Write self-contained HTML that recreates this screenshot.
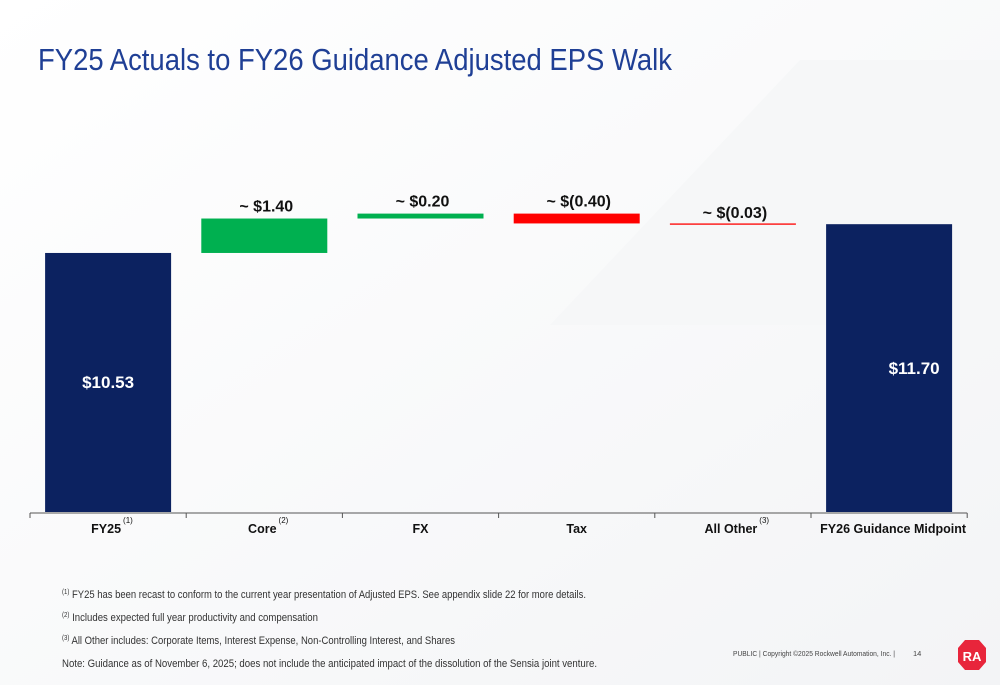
<!DOCTYPE html>
<html><head><meta charset="utf-8"><style>
html,body{margin:0;padding:0;width:1000px;height:685px;overflow:hidden;background:#fff}
svg{display:block;font-family:"Liberation Sans",sans-serif}
</style></head><body>
<svg id="c" width="1000" height="685" viewBox="0 0 1000 685">
<defs><linearGradient id="bg" x1="0" y1="0" x2="1" y2="1"><stop offset="0" stop-color="#ffffff"/><stop offset="1" stop-color="#f3f4f6"/></linearGradient></defs>
<rect width="1000" height="685" fill="url(#bg)"/>
<polygon points="550,325 800,60 1000,60 1000,325" fill="#f6f7f8"/>
<text x="38" y="70" font-size="31" fill="#1f3f95" textLength="634" lengthAdjust="spacingAndGlyphs">FY25 Actuals to FY26 Guidance Adjusted EPS Walk</text>
<g id="bars"></g>
<g id="axis"></g>
<g font-size="11" fill="#333">
<text x="62" y="598" textLength="524" lengthAdjust="spacingAndGlyphs"><tspan font-size="7" dy="-4">(1)</tspan><tspan dy="4"> FY25 has been recast to conform to the current year presentation of Adjusted EPS. See appendix slide 22 for more details.</tspan></text>
<text x="62" y="621" textLength="256" lengthAdjust="spacingAndGlyphs"><tspan font-size="7" dy="-4">(2)</tspan><tspan dy="4"> Includes expected full year productivity and compensation</tspan></text>
<text x="62" y="644" textLength="393" lengthAdjust="spacingAndGlyphs"><tspan font-size="7" dy="-4">(3)</tspan><tspan dy="4"> All Other includes: Corporate Items, Interest Expense, Non-Controlling Interest, and Shares</tspan></text>
<text x="62" y="667" textLength="535" lengthAdjust="spacingAndGlyphs">Note: Guidance as of November 6, 2025; does not include the anticipated impact of the dissolution of the Sensia joint venture.</text>
</g>
<text x="733" y="656" font-size="7.5" fill="#444" textLength="162" lengthAdjust="spacingAndGlyphs">PUBLIC | Copyright ©2025 Rockwell Automation, Inc. |</text>
<text x="913" y="656" font-size="7.5" fill="#444">14</text>
<g><polygon points="965,640 979,640 986,648 986,662 979,670 965,670 958,662 958,648" fill="#e8253b"/><text x="972" y="661" font-size="13" font-weight="bold" fill="#fff" text-anchor="middle">RA</text></g>
</svg>
<script>
const categories=["FY25","Core","FX","Tax","All Other","FY26 Guidance Midpoint"];
const superscripts=["(1)","(2)","","","(3)",""];
const values=[10.53,1.40,0.20,-0.40,-0.03,11.70];
const valueLabels=["$10.53","~ $1.40","~ $0.20","~ $(0.40)","~ $(0.03)","$11.70"];
const kinds=["total","delta","delta","delta","delta","total"];
const NS="http://www.w3.org/2000/svg";
const base=512, scale=24.6, x0=30, step=156.2, bw=126;
const y=v=>base-v*scale;
const xc=i=>x0+step*i+step/2;
function mk(t,a,p){const e=document.createElementNS(NS,t);for(const k in a)e.setAttribute(k,a[k]);p.appendChild(e);return e;}
const gb=document.getElementById('bars'),ga=document.getElementById('axis');
let cum=0;
values.forEach((v,i)=>{
  let top,bot,col;
  if(kinds[i]==="total"){top=y(v);bot=base;col="#0c2260";cum=v;}
  else{const s=cum,e=cum+v;top=y(Math.max(s,e));bot=y(Math.min(s,e));col=v>=0?"#00b050":"#ff0000";cum=e;}
  const h=Math.max(bot-top,1.3);
  const r=mk('rect',{x:xc(i)-bw/2,y:top,width:bw,height:h,fill:col},gb);
  
  
  let t;
  if(kinds[i]==="total"){
    const lx=i===0?xc(i):xc(i)+25;
    const ly=i===0?y(v)+135:y(v)+150;
    t=mk('text',{x:lx,y:ly,'font-size':17,'font-weight':'bold',fill:'#fff','text-anchor':'middle'},gb);
  } else {
    const ly=top-7;
    t=mk('text',{x:xc(i)+2,y:i===4?218:ly,'font-size':16,'font-weight':'bold',fill:'#111','text-anchor':'middle'},gb);
  }
  t.textContent=valueLabels[i];
  
  
});
const ln=mk('line',{x1:x0,y1:base+1,x2:x0+step*6,y2:base+1,stroke:'#555','stroke-width':1},ga);


for(let i=0;i<=6;i++){const tk=mk('line',{x1:x0+step*i,y1:base+1,x2:x0+step*i,y2:base+6,stroke:'#555'},ga);

}
categories.forEach((c,i)=>{
  const t=mk('text',{x:xc(i)+(i===5?4:(i===2||i===3?0:-2)),y:533,'font-size':12.5,'font-weight':'bold',fill:'#111','text-anchor':'middle'},ga);
  t.textContent=c;
  
  
  if(superscripts[i]){
    const w=t.getComputedTextLength();
    const s=mk('text',{x:xc(i)-2+w/2+2,y:523,'font-size':8,fill:'#111'},ga);
    s.textContent=superscripts[i];
    
    
  }
});
</script>
</body></html>
